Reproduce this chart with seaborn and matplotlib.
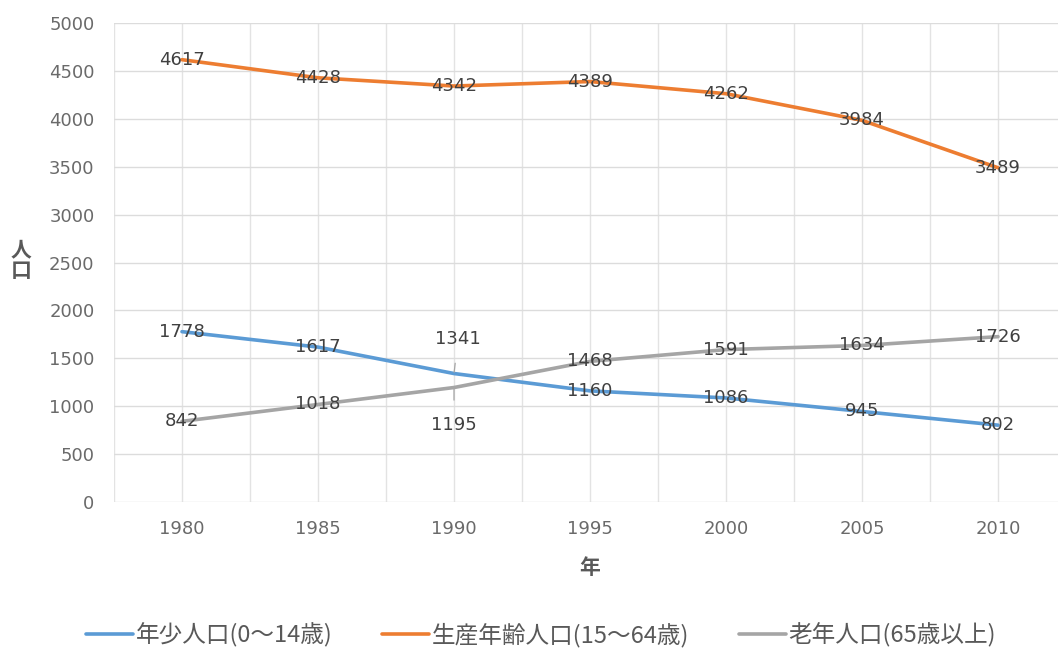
import pandas as pd
import matplotlib.pyplot as plt
import seaborn as sns

years = ['1980', '1985', '1990', '1995', '2000', '2005', '2010']
young = [1778, 1617, 1341, 1160, 1086, 945, 802]
working = [4617, 4428, 4342, 4389, 4262, 3984, 3489]
old = [842, 1018, 1195, 1468, 1591, 1634, 1726]
names = ['年少人口(0～14歳)', '生産年齢人口(15～64歳)', '老年人口(65歳以上)']
colors = ['#5B9BD5', '#ED7D31', '#A5A5A5']

df = pd.DataFrame({'年': years * 3,
                   '人口': young + working + old,
                   '区分': [n for n in names for _ in years]})

sns.set_style('white')
plt.rcParams['font.family'] = ['DejaVu Sans', 'Noto Sans CJK JP']
jp = ['Noto Sans CJK JP', 'DejaVu Sans']

fig = plt.figure(figsize=(10.58, 6.48), dpi=100)
ax = fig.add_axes([114 / 1058, 1 - 502 / 648, 952 / 1058, 479 / 648])

sns.lineplot(data=df, x='年', y='人口', hue='区分', palette=colors,
             linewidth=2.6, ax=ax, legend=True, sort=False)

ax.set_ylim(0, 5000)
ax.set_xlim(-0.5, 6.5)
ax.set_yticks(range(0, 5001, 500))
ax.set_xticks([i * 0.5 for i in range(-1, 14)], minor=True)
ax.grid(True, which='both', axis='x', color='#E3E3E3', linewidth=1)
ax.grid(True, which='major', axis='y', color='#DCDCDC', linewidth=1)
for s in ax.spines.values():
    s.set_visible(False)
ax.tick_params(axis='both', which='both', length=0, labelsize=13,
               labelcolor='#6A6A6A')
ax.tick_params(axis='y', pad=14)
ax.tick_params(axis='x', pad=13)

# データラベル
for vals in (young, working, old):
    for i, v in enumerate(vals):
        if i == 2 and vals is young:
            ax.annotate(str(v), (i, v), xytext=(i + 0.03, v + 365),
                        ha='center', va='center', fontsize=13, color='#404040',
                        arrowprops=dict(arrowstyle='-', color='#A5A5A5', lw=0.9,
                                        shrinkA=9, shrinkB=1))
        elif i == 2 and vals is old:
            ax.annotate(str(v), (i, v), xytext=(i, v - 390),
                        ha='center', va='center', fontsize=13, color='#404040',
                        arrowprops=dict(arrowstyle='-', color='#A5A5A5', lw=0.9,
                                        shrinkA=9, shrinkB=1))
        else:
            ax.text(i, v, str(v), ha='center', va='center', fontsize=13,
                    color='#404040')

ax.set_xlabel('年', fontsize=15, color='#595959', labelpad=14,
              family=jp, fontweight='bold')
ax.set_ylabel('')
fig.text(21 / 1058, 1 - 260 / 648, '人\n口', fontsize=15, color='#595959',
         ha='center', va='center', linespacing=1.0, family=jp,
         fontweight='bold')

handles, labels = ax.get_legend_handles_labels()
ax.get_legend().remove()
fig.legend(handles, labels, loc='center', bbox_to_anchor=(541 / 1058, 1 - 635 / 648),
           ncol=3, frameon=False, prop={'family': jp, 'size': 17},
           handlelength=2.0, handletextpad=0.1, columnspacing=2.1,
           labelcolor='#595959')

fig.savefig('out.png', dpi=100)
